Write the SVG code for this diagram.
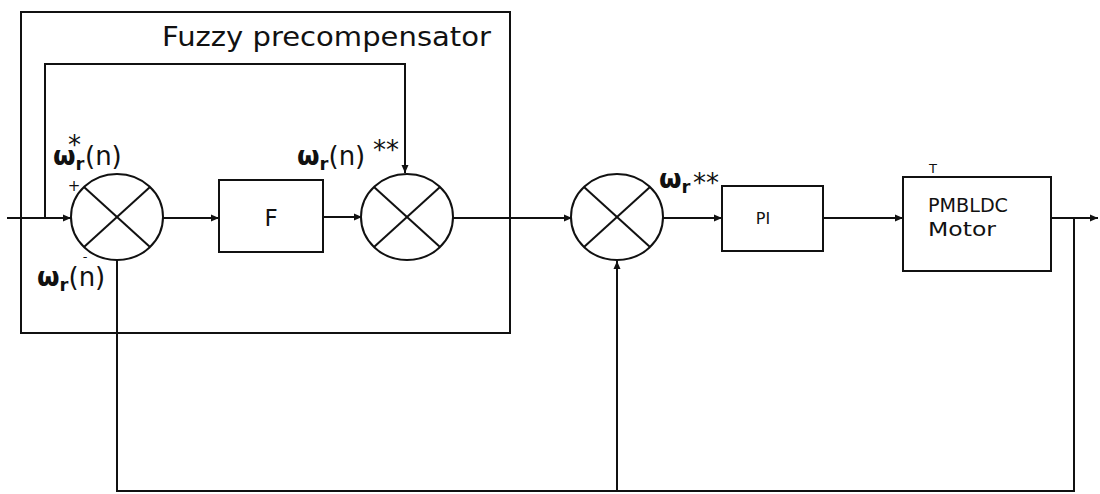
<svg xmlns="http://www.w3.org/2000/svg" width="1100" height="494" viewBox="0 0 1100 494">
<style>
.ln{fill:none;stroke:#111;stroke-width:2}
.bx{fill:#fff;stroke:#111;stroke-width:2}
.t{font-family:"DejaVu Sans","Liberation Sans",sans-serif;fill:#111}
.w{font-family:"DejaVu Sans","Liberation Sans",sans-serif;fill:#111;font-weight:bold}
.n{font-weight:normal}
</style>
<defs>
<marker id="ah" viewBox="0 0 8 8" refX="8" refY="4" markerWidth="8" markerHeight="8" markerUnits="userSpaceOnUse" orient="auto">
<path d="M0,0.5 L8,4 L0,7.5 Z" fill="#111"/>
</marker>
</defs>
<rect width="1100" height="494" fill="#fff"/>
<g id="precompensator">
<rect class="ln" x="21" y="12" width="489" height="321"/>
<text class="t" x="162" y="46" font-size="27" textLength="329" lengthAdjust="spacingAndGlyphs">Fuzzy precompensator</text>
</g>
<g id="connectors">
<line class="ln" x1="7" y1="218" x2="71" y2="218" marker-end="url(#ah)"/>
<polyline class="ln" points="45,218 45,64 405,64 405,173" marker-end="url(#ah)"/>
<line class="ln" x1="163" y1="218" x2="219" y2="218" marker-end="url(#ah)"/>
<line class="ln" x1="323" y1="217" x2="362" y2="217" marker-end="url(#ah)"/>
<line class="ln" x1="453" y1="218" x2="572" y2="218" marker-end="url(#ah)"/>
<line class="ln" x1="663" y1="218" x2="722" y2="218" marker-end="url(#ah)"/>
<line class="ln" x1="823" y1="218" x2="903" y2="218" marker-end="url(#ah)"/>
<line class="ln" x1="1051" y1="218" x2="1098" y2="218" marker-end="url(#ah)"/>
<polyline class="ln" points="117,260 117,491 1074,491 1074,218"/>
<line class="ln" x1="617" y1="491" x2="617" y2="261" marker-end="url(#ah)"/>
</g>
<g id="sum1">
<ellipse class="bx" cx="117" cy="217" rx="46" ry="43"/>
<line class="ln" x1="84" y1="187" x2="150" y2="247"/>
<line class="ln" x1="150" y1="187" x2="84" y2="247"/>
<text class="t" x="74" y="191" font-size="15" text-anchor="middle">+</text>
<text class="t" x="85" y="261" font-size="13" text-anchor="middle">-</text>
<text class="w" x="53" y="165" font-size="26">ω<tspan font-size="18" dy="5">r</tspan><tspan class="n" x="68" dy="-16">*</tspan><tspan class="n" x="85" dy="11">(n)</tspan></text>
<text class="w" x="37" y="286" font-size="26">ω<tspan font-size="18" dy="5">r</tspan><tspan class="n" dy="-5">(n)</tspan></text>
</g>
<g id="F">
<rect class="bx" x="219" y="180" width="104" height="72"/>
<text class="t" x="271" y="226" font-size="23" text-anchor="middle">F</text>
</g>
<g id="sum2">
<ellipse class="bx" cx="407" cy="217" rx="46" ry="43"/>
<line class="ln" x1="374" y1="187" x2="440" y2="247"/>
<line class="ln" x1="440" y1="187" x2="374" y2="247"/>
<text class="w" x="297" y="165" font-size="26">ω<tspan font-size="18" dy="5">r</tspan><tspan class="n" dy="-5">(n)</tspan><tspan class="n" x="373" dy="-6">**</tspan></text>
</g>
<g id="sum3">
<ellipse class="bx" cx="617" cy="217" rx="46" ry="43"/>
<line class="ln" x1="584" y1="187" x2="650" y2="247"/>
<line class="ln" x1="650" y1="187" x2="584" y2="247"/>
<text class="w" x="659" y="188" font-size="26">ω<tspan font-size="18" dy="5">r</tspan><tspan class="n" x="693" dy="-1">**</tspan></text>
</g>
<g id="PI">
<rect class="bx" x="722" y="186" width="101" height="65"/>
<text class="t" x="763" y="224" font-size="16" text-anchor="middle">PI</text>
</g>
<g id="motor">
<rect class="bx" x="903" y="177" width="148" height="94"/>
<text class="t" x="928" y="212" font-size="19" textLength="80" lengthAdjust="spacingAndGlyphs">PMBLDC</text>
<text class="t" x="928" y="236" font-size="19" textLength="68" lengthAdjust="spacingAndGlyphs">Motor</text>
<text class="t" x="933" y="173" font-size="13" text-anchor="middle">T</text>
</g>
</svg>
